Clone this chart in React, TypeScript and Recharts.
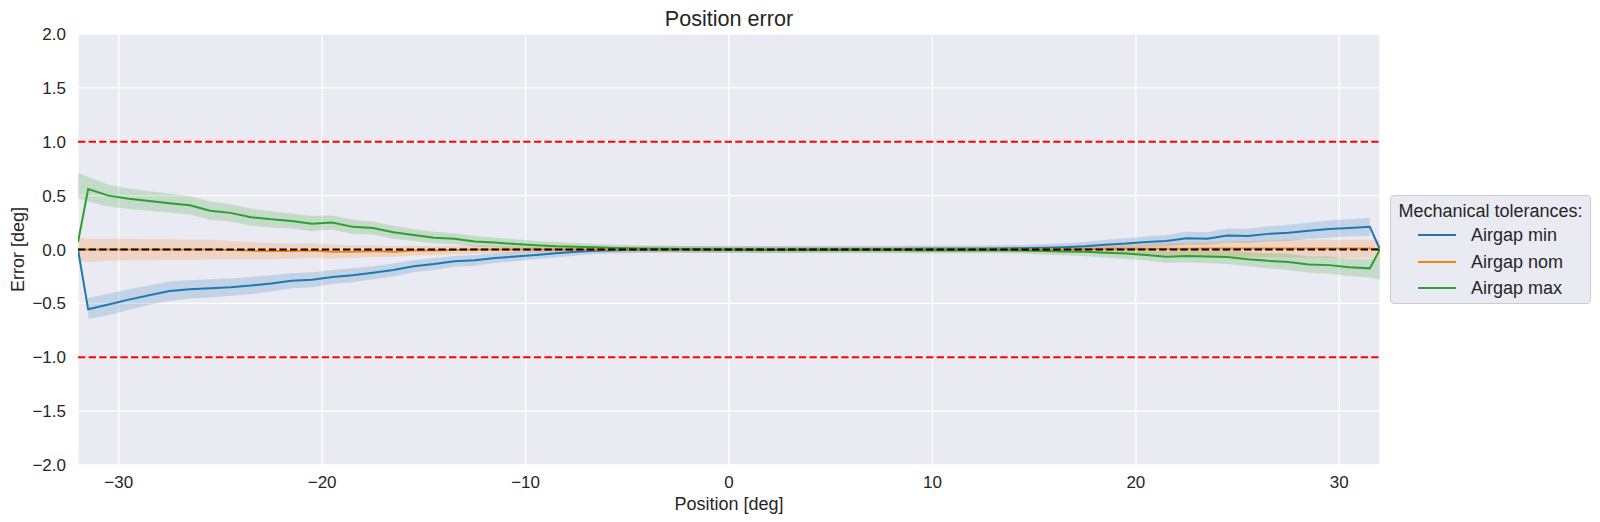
import React from "react";
import {
  ComposedChart,
  Line,
  Area,
  XAxis,
  YAxis,
  CartesianGrid,
  ReferenceLine,
  Label,
} from "recharts";

// x positions [deg]
const positions = [
  -32, -31.5, -30.5, -29.5, -28.5, -27.5, -26.5, -25.5, -24.5, -23.5, -22.5,
  -21.5, -20.5, -19.5, -18.5, -17.5, -16.5, -15.5, -14.5, -13.5, -12.5, -11.5,
  -10.5, -9.5, -8.5, -7.5, -6.5, -5.5, -4.5, -3.5, -2.5, -1.5, -0.5,
  0.5, 1.5, 2.5, 3.5, 4.5, 5.5, 6.5, 7.5, 8.5, 9.5, 10.5,
  11.5, 12.5, 13.5, 14.5, 15.5, 16.5, 17.5, 18.5, 19.5, 20.5, 21.5,
  22.5, 23.5, 24.5, 25.5, 26.5, 27.5, 28.5, 29.5, 30.5, 31.5, 32,
];

// Airgap min (mean + band)
const airgapMin = [
  0, -0.555, -0.51, -0.465, -0.425, -0.385, -0.37, -0.36, -0.35, -0.335, -0.315,
  -0.29, -0.28, -0.255, -0.24, -0.215, -0.19, -0.155, -0.135, -0.11, -0.1, -0.08,
  -0.065, -0.05, -0.035, -0.02, -0.012, -0.006, -0.003, 0, 0, 0.002, 0.002,
  0.003, 0.003, 0.003, 0.004, 0.004, 0.004, 0.005, 0.005, 0.005, 0.006, 0.006,
  0.007, 0.008, 0.01, 0.012, 0.016, 0.022, 0.03, 0.045, 0.055, 0.07, 0.08,
  0.105, 0.1, 0.13, 0.125, 0.145, 0.155, 0.175, 0.19, 0.2, 0.21, 0,
];
const minLo = [
  null, -0.645, -0.61, -0.56, -0.515, -0.475, -0.455, -0.445, -0.43, -0.415, -0.39,
  -0.36, -0.35, -0.32, -0.305, -0.275, -0.25, -0.21, -0.19, -0.16, -0.15, -0.125,
  -0.11, -0.09, -0.075, -0.055, -0.042, -0.036, -0.033, -0.03, -0.03, -0.028, -0.028,
  -0.027, -0.027, -0.027, -0.026, -0.026, -0.026, -0.025, -0.025, -0.025, -0.024, -0.024,
  -0.023, -0.022, -0.02, -0.018, -0.019, -0.013, -0.01, 0, 0.005, 0.02, 0.025,
  0.045, 0.04, 0.065, 0.06, 0.075, 0.08, 0.1, 0.11, 0.12, 0.125, null,
];
const minHi = [
  null, -0.45, -0.41, -0.37, -0.335, -0.295, -0.285, -0.275, -0.27, -0.255, -0.24,
  -0.22, -0.21, -0.19, -0.175, -0.155, -0.13, -0.1, -0.08, -0.06, -0.05, -0.035,
  -0.02, -0.01, 0.005, 0.015, 0.018, 0.024, 0.027, 0.03, 0.03, 0.032, 0.032,
  0.033, 0.033, 0.033, 0.034, 0.034, 0.034, 0.035, 0.035, 0.035, 0.036, 0.036,
  0.037, 0.038, 0.04, 0.042, 0.051, 0.057, 0.07, 0.09, 0.105, 0.12, 0.135,
  0.165, 0.16, 0.195, 0.19, 0.215, 0.23, 0.25, 0.27, 0.28, 0.295, null,
];

// Airgap nom
const airgapNom = [
  0, 0, 0, 0, 0, 0, 0, 0, -0.005, -0.01, -0.015,
  -0.015, -0.01, -0.02, -0.02, -0.015, -0.02, -0.01, -0.01, -0.005, 0, 0,
  0, 0, 0, 0, 0, 0, 0, 0, 0, 0, 0,
  0, 0, 0, 0, 0, 0, 0, 0, 0, 0, 0,
  0, 0, 0, 0, 0, 0.005, 0.005, 0.006, 0.006, 0.007, 0.008,
  0.008, 0.009, 0.009, 0.01, 0.01, 0.01, 0.01, 0.01, 0.01, 0.01, 0,
];
const nomLo = [
  -0.1, -0.115, -0.105, -0.1, -0.1, -0.095, -0.095, -0.09, -0.09, -0.09, -0.09,
  -0.085, -0.08, -0.085, -0.08, -0.07, -0.07, -0.055, -0.05, -0.045, -0.04, -0.035,
  -0.03, -0.025, -0.025, -0.025, -0.025, -0.025, -0.025, -0.025, -0.025, -0.025, -0.025,
  -0.025, -0.025, -0.025, -0.025, -0.025, -0.025, -0.025, -0.025, -0.025, -0.025, -0.025,
  -0.025, -0.025, -0.025, -0.025, -0.028, -0.03, -0.032, -0.035, -0.04, -0.045, -0.05,
  -0.055, -0.06, -0.065, -0.07, -0.07, -0.075, -0.075, -0.08, -0.08, -0.08, -0.08,
];
const nomHi = [
  0.11, 0.1, 0.1, 0.1, 0.095, 0.095, 0.09, 0.09, 0.08, 0.07, 0.06,
  0.055, 0.06, 0.045, 0.04, 0.04, 0.03, 0.035, 0.03, 0.035, 0.035, 0.035,
  0.03, 0.025, 0.025, 0.025, 0.025, 0.025, 0.025, 0.025, 0.025, 0.025, 0.025,
  0.025, 0.025, 0.025, 0.025, 0.025, 0.025, 0.025, 0.025, 0.025, 0.025, 0.025,
  0.025, 0.025, 0.025, 0.025, 0.028, 0.035, 0.04, 0.045, 0.05, 0.055, 0.06,
  0.065, 0.07, 0.075, 0.08, 0.085, 0.09, 0.09, 0.09, 0.09, 0.09, 0.09,
];

// Airgap max
const airgapMax = [
  0.07, 0.56, 0.5, 0.47, 0.45, 0.43, 0.41, 0.36, 0.34, 0.3, 0.28,
  0.265, 0.24, 0.25, 0.21, 0.2, 0.16, 0.135, 0.11, 0.1, 0.075, 0.065,
  0.05, 0.04, 0.03, 0.025, 0.02, 0.015, 0.01, 0.008, 0.004, 0, -0.002,
  -0.003, -0.004, -0.004, -0.004, -0.004, -0.004, -0.004, -0.004, -0.004, -0.006, -0.006,
  -0.006, -0.006, -0.006, -0.01, -0.014, -0.018, -0.022, -0.03, -0.038, -0.05, -0.068,
  -0.06, -0.065, -0.07, -0.09, -0.105, -0.115, -0.14, -0.145, -0.165, -0.175, 0,
];
const maxLo = [
  0.475, 0.445, 0.4, 0.375, 0.36, 0.34, 0.325, 0.275, 0.26, 0.22, 0.205,
  0.195, 0.17, 0.185, 0.145, 0.14, 0.1, 0.08, 0.055, 0.05, 0.025, 0.02,
  0.005, 0, -0.01, -0.01, -0.01, -0.015, -0.02, -0.022, -0.026, -0.03, -0.032,
  -0.033, -0.034, -0.034, -0.034, -0.034, -0.034, -0.034, -0.034, -0.034, -0.036, -0.036,
  -0.036, -0.036, -0.036, -0.04, -0.049, -0.053, -0.062, -0.075, -0.088, -0.1, -0.123,
  -0.12, -0.125, -0.135, -0.155, -0.175, -0.19, -0.215, -0.225, -0.245, -0.26, -0.28,
];
const maxHi = [
  0.71, 0.675, 0.6, 0.565, 0.54, 0.52, 0.495, 0.445, 0.42, 0.38, 0.355,
  0.335, 0.31, 0.315, 0.275, 0.26, 0.22, 0.19, 0.165, 0.15, 0.125, 0.11,
  0.095, 0.08, 0.07, 0.06, 0.05, 0.045, 0.04, 0.038, 0.034, 0.03, 0.028,
  0.027, 0.026, 0.026, 0.026, 0.026, 0.026, 0.026, 0.026, 0.026, 0.024, 0.024,
  0.024, 0.024, 0.024, 0.02, 0.021, 0.017, 0.018, 0.015, 0.012, 0, -0.013,
  0, -0.005, -0.005, -0.025, -0.035, -0.04, -0.065, -0.065, -0.085, -0.09, -0.07,
];

const xTicks = [-30, -20, -10, 0, 10, 20, 30];
const yTicks = [-2, -1.5, -1, -0.5, 0, 0.5, 1, 1.5, 2];
const limits = [1, -1];

const series = [
  { key: "min", name: "Airgap min", color: "#1f77b4" },
  { key: "nom", name: "Airgap nom", color: "#ff7f0e" },
  { key: "max", name: "Airgap max", color: "#2ca02c" },
];

const band = (lo: (number | null)[], hi: (number | null)[], i: number) =>
  lo[i] == null || hi[i] == null ? null : [lo[i], hi[i]];

const data = positions.map((x, i) => ({
  x,
  min: airgapMin[i],
  nom: airgapNom[i],
  max: airgapMax[i],
  minBand: band(minLo, minHi, i),
  nomBand: band(nomLo, nomHi, i),
  maxBand: band(maxLo, maxHi, i),
}));

const FONT = '"Liberation Sans", Arial, sans-serif';
const TEXT = "#262626";

const fmt = (v: number, digits: number) =>
  (v < 0 ? "\u2212" : "") + Math.abs(v).toFixed(digits);

const App = () => {
  return (
    <div
      style={{
        position: "absolute",
        left: 0,
        top: 0,
        width: 1600,
        height: 522,
        background: "#fff",
        fontFamily: FONT,
        color: TEXT,
      }}
    >
      <div
        style={{
          position: "absolute",
          left: 78,
          width: 1302,
          top: 7.5,
          textAlign: "center",
          fontSize: 21.6,
          lineHeight: "21.6px",
        }}
      >
        Position error
      </div>

      <ComposedChart
        width={1600}
        height={522}
        data={data}
        margin={{ top: 34, right: 220, bottom: 27, left: 18 }}
      >
        <CartesianGrid
          stroke="#ffffff"
          strokeWidth={1.3}
          fill="#eaeaf2"
          fillOpacity={1}
        />
        <XAxis
          dataKey="x"
          type="number"
          domain={[-32, 32]}
          ticks={xTicks}
          allowDataOverflow
          axisLine={false}
          tickLine={false}
          tickSize={9}
          tickMargin={2}
          height={30}
          tickFormatter={(v) => fmt(v, 0)}
          tick={{ fill: TEXT, fontSize: 17, fontFamily: FONT }}
        >
          <Label
            content={({ viewBox }: any) => (
              <text
                x={viewBox.x + viewBox.width / 2}
                y={510}
                textAnchor="middle"
                fill={TEXT}
                fontSize={18}
                fontFamily={FONT}
              >
                Position [deg]
              </text>
            )}
          />
        </XAxis>
        <YAxis
          type="number"
          domain={[-2, 2]}
          ticks={yTicks}
          allowDataOverflow
          axisLine={false}
          tickLine={false}
          tickSize={10}
          tickMargin={2}
          width={60}
          tickFormatter={(v) => fmt(v, 1)}
          tick={{ fill: TEXT, fontSize: 17, fontFamily: FONT }}
        >
          <Label
            content={({ viewBox }: any) => (
              <text
                transform={`translate(24, ${viewBox.y + viewBox.height / 2}) rotate(-90)`}
                textAnchor="middle"
                fill={TEXT}
                fontSize={18}
                fontFamily={FONT}
              >
                Error [deg]
              </text>
            )}
          />
        </YAxis>

        {series.map((s) => (
          <Area
            key={s.key + "Band"}
            type="linear"
            dataKey={s.key + "Band"}
            stroke="none"
            fill={s.color}
            fillOpacity={0.2}
            isAnimationActive={false}
            activeDot={false}
          />
        ))}
        {series.map((s) => (
          <Line
            key={s.key}
            type="linear"
            dataKey={s.key}
            name={s.name}
            stroke={s.color}
            strokeWidth={2}
            dot={false}
            activeDot={false}
            isAnimationActive={false}
          />
        ))}

        <ReferenceLine
          y={0}
          stroke="#000000"
          strokeWidth={2}
          strokeDasharray="7.4 3.2"
        />
        {limits.map((l) => (
          <ReferenceLine
            key={l}
            y={l}
            stroke="#ff0000"
            strokeWidth={2}
            strokeDasharray="7.4 3.2"
          />
        ))}
      </ComposedChart>

      <div
        style={{
          position: "absolute",
          left: 1390,
          top: 195,
          width: 199,
          height: 107,
          background: "#eaeaf2",
          border: "1px solid #cccccc",
          borderRadius: 4,
          fontSize: 18,
        }}
      >
        <div
          style={{
            position: "absolute",
            left: 0,
            right: 0,
            top: 2,
            lineHeight: "26px",
            textAlign: "center",
          }}
        >
          Mechanical tolerances:
        </div>
        {series.map((s, i) => (
          <div
            key={s.key}
            style={{
              position: "absolute",
              left: 0,
              right: 0,
              top: 26 + i * 26.5,
              height: 26,
              lineHeight: "26px",
            }}
          >
            <div
              style={{
                position: "absolute",
                left: 27,
                top: 12,
                width: 38,
                height: 2,
                background: s.color,
              }}
            />
            <div style={{ position: "absolute", left: 80, top: 0 }}>{s.name}</div>
          </div>
        ))}
      </div>
    </div>
  );
};

export default App;
